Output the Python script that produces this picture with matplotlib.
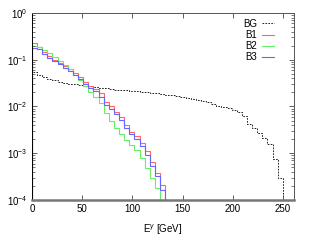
import numpy as np
import matplotlib
matplotlib.use("Agg")
import matplotlib.pyplot as plt
from matplotlib.ticker import LogLocator, FixedLocator

plt.rcParams['font.family'] = ['Liberation Sans', 'DejaVu Sans']
plt.rcParams['mathtext.fontset'] = 'custom'
plt.rcParams['mathtext.rm'] = 'Liberation Sans'
plt.rcParams['mathtext.it'] = 'Liberation Sans:italic'

# histogram bins, 0..255 GeV in 50 bins
bin_width = 5.1

bg = [0.056, 0.047, 0.042, 0.038, 0.036, 0.034, 0.032, 0.031, 0.030, 0.029,
      0.028, 0.027, 0.026, 0.025, 0.0243, 0.0236, 0.023, 0.0225, 0.022, 0.0216,
      0.0212, 0.0205, 0.020, 0.0196, 0.019, 0.0185, 0.018, 0.0172, 0.0166, 0.016,
      0.0152, 0.0145, 0.0138, 0.013, 0.0122, 0.0112, 0.0104, 0.0098, 0.0092, 0.0084,
      0.0075, 0.0062, 0.0042, 0.0035, 0.0027, 0.0021, 0.0016, 0.00074, 0.00029]

b1 = [0.23, 0.19, 0.145, 0.12, 0.10, 0.085, 0.072, 0.062, 0.052, 0.043,
      0.034, 0.0275, 0.024, 0.019, 0.0127, 0.010, 0.0078, 0.0061, 0.0040, 0.0029,
      0.0023, 0.00165, 0.00109, 0.00066, 0.00037, 0.00021]

b2 = [0.20, 0.19, 0.165, 0.14, 0.115, 0.095, 0.078, 0.063, 0.048, 0.036,
      0.027, 0.0205, 0.016, 0.0117, 0.0072, 0.0048, 0.0034, 0.0026, 0.0019, 0.0015,
      0.0012, 0.00079, 0.00049, 0.00030, 0.00018]

b3 = [0.18, 0.17, 0.13, 0.11, 0.092, 0.080, 0.068, 0.058, 0.048, 0.038,
      0.031, 0.025, 0.021, 0.016, 0.011, 0.0088, 0.0068, 0.0052, 0.0035, 0.0026,
      0.0020, 0.0014, 0.00093, 0.00054, 0.00032, 0.000166]

series = [('BG', bg, 'black'), ('B1', b1, '#ff6666'),
          ('B2', b2, '#66ee66'), ('B3', b3, '#6666ff')]

fig = plt.figure(figsize=(3.11, 2.45), dpi=100)
ax = fig.add_axes([0.1029, 0.1837, 0.8424, 0.7633])

for name, vals, col in series:
    edges = np.arange(len(vals) + 1) * bin_width
    if name == 'BG':
        ax.stairs(vals, edges, baseline=1e-9, color=col, lw=0.6,
                  linestyle=(0, (2, 1.5)), label=name)
    else:
        ax.stairs(vals, edges, baseline=1e-9, color=col, lw=0.8, label=name)

ax.set_yscale('log')
ax.set_ylim(1e-4, 1)
ax.set_xlim(0, 261)

ax.xaxis.set_major_locator(FixedLocator([0, 50, 100, 150, 200, 250]))
ax.yaxis.set_major_locator(LogLocator(base=10, numticks=10))
ax.yaxis.set_minor_locator(LogLocator(base=10, subs=np.arange(2, 10), numticks=20))
ax.tick_params(which='both', direction='in', top=True, right=True, labelsize=7,
               color='#444444', pad=3)
ax.tick_params(which='major', length=3.5, width=0.6)
ax.tick_params(which='minor', length=2, width=0.5)
ax.tick_params(axis='x', which='minor', bottom=False, top=False)

for side in ['left', 'top', 'right']:
    ax.spines[side].set_linewidth(0.7)
    ax.spines[side].set_color('#555555')
ax.spines['left'].set_color('black')
ax.spines['bottom'].set_linewidth(1.8)
ax.spines['bottom'].set_color('#777777')

ax.set_xlabel(r'E$^{\gamma}$ [GeV]', fontsize=7, labelpad=6)

ax.legend(loc='upper right', bbox_to_anchor=(0.945, 1.0), markerfirst=False,
          frameon=False, fontsize=7, handlelength=1.2, handletextpad=0.5,
          labelspacing=0.12, borderpad=0.1)

fig.savefig('out.png', dpi=100)
